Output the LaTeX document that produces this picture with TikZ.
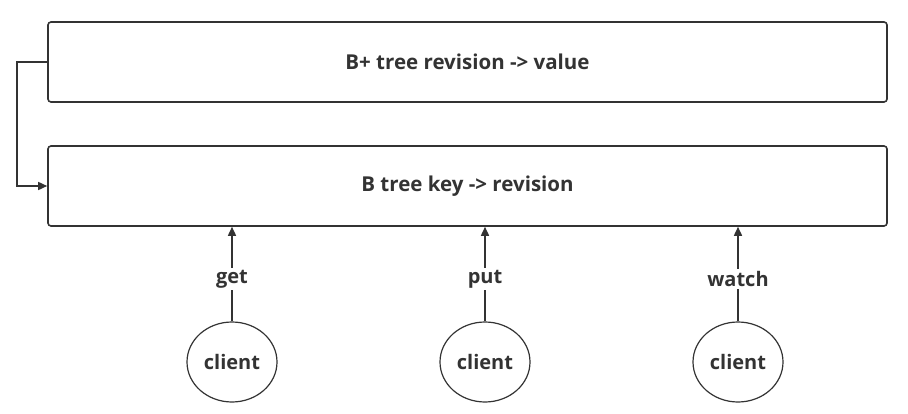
\documentclass[tikz,border=0pt]{standalone}
\usepackage{fontspec}
\setmainfont{Open Sans}
\usetikzlibrary{arrows.meta,shapes.geometric}
\definecolor{ink}{HTML}{333333}
\tikzset{
  treebox/.style={draw=ink,line width=1.6pt,rounded corners=3pt,minimum width=839pt,minimum height=80pt,
    font=\fontsize{20.5}{24}\selectfont\bfseries,text=ink},
  clientnode/.style={draw=ink,ellipse,line width=1.2pt,minimum width=90pt,minimum height=80pt,inner sep=0pt,
    font=\fontsize{20}{24}\selectfont\bfseries,text=ink},
  oplabel/.style={fill=white,font=\fontsize{20}{24}\selectfont\bfseries,text=ink,inner sep=2pt},
  link/.style={draw=ink,line width=1.6pt,-{Triangle[length=9pt,width=8pt]}}
}
\begin{document}
\begin{tikzpicture}[x=1pt,y=-1pt]
  \useasboundingbox (0,0) rectangle (908,414);
  \node[treebox] (bplus) at (467.5,62) {B+ tree revision -> value};
  \node[treebox] (btree) at (467.5,186) {B tree key -> revision};
  \coordinate (bend) at (17,62);
  \draw[link] (bplus.west) -- (bend) |- (btree.west);
  \node[clientnode] (getc) at (232,362) {client};
  \node[clientnode] (putc) at (485,362) {client};
  \node[clientnode] (watchc) at (738,362) {client};
  \draw[link] (getc.north) -- (getc.north |- btree.south) node[oplabel,pos=0.45] {get};
  \draw[link] (putc.north) -- (putc.north |- btree.south) node[oplabel,pos=0.45] {put};
  \draw[link] (watchc.north) -- (watchc.north |- btree.south) node[oplabel,pos=0.45] {watch};
\end{tikzpicture}
\end{document}
